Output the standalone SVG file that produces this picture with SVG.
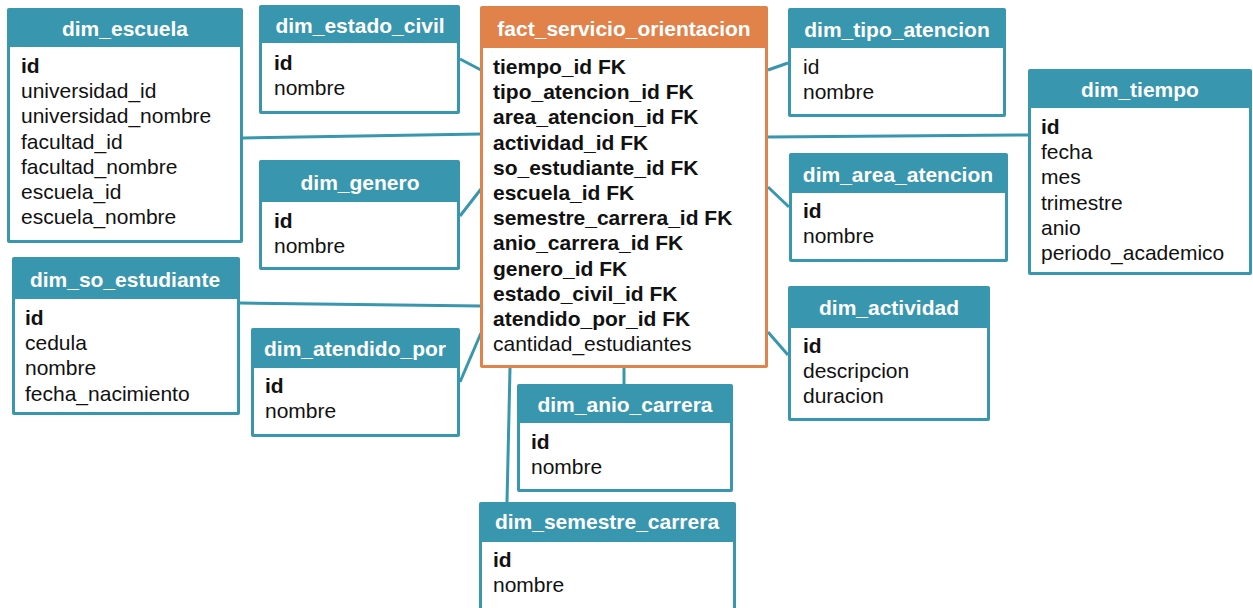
<svg xmlns="http://www.w3.org/2000/svg" width="1253" height="608" viewBox="0 0 1253 608">
<style>
.t{fill:#3896AE}
.o{fill:#E0824A}
.w{fill:#FFFFFF}
.h{font-family:"Liberation Sans",Arial,sans-serif;font-size:21px;font-weight:bold;fill:#FFFFFF;text-anchor:middle}
.r{font-family:"Liberation Sans",Arial,sans-serif;font-size:21px;fill:#111111}
.b{font-weight:bold}
.c{stroke:#3896AE;stroke-width:3;fill:none}
</style>
<rect width="1253" height="608" fill="#FFFFFF"/>
<g id="connectors">
<line class="c" x1="460" y1="59" x2="481" y2="70"/>
<line class="c" x1="243" y1="138" x2="481" y2="134"/>
<line class="c" x1="460" y1="216" x2="481" y2="189"/>
<line class="c" x1="240" y1="303" x2="481" y2="306"/>
<line class="c" x1="460" y1="382" x2="481" y2="333"/>
<line class="c" x1="768" y1="70" x2="788" y2="63"/>
<line class="c" x1="768" y1="137" x2="1028" y2="135"/>
<line class="c" x1="768" y1="187" x2="789" y2="207"/>
<line class="c" x1="768" y1="332" x2="788" y2="355"/>
<line class="c" x1="624" y1="368" x2="624" y2="384"/>
<line class="c" x1="510" y1="368" x2="507" y2="502"/>
</g>
<g id="dim_escuela">
<rect class="t" x="7" y="8" width="236" height="235" rx="2"/>
<rect class="w" x="10" y="47" width="230" height="193"/>
<text class="h" x="125" y="36">dim_escuela</text>
<text class="r" x="21" y="73"><tspan class="b">id</tspan><tspan x="21" dy="25.2">universidad_id</tspan><tspan x="21" dy="25.2">universidad_nombre</tspan><tspan x="21" dy="25.2">facultad_id</tspan><tspan x="21" dy="25.2">facultad_nombre</tspan><tspan x="21" dy="25.2">escuela_id</tspan><tspan x="21" dy="25.2">escuela_nombre</tspan></text>
</g>
<g id="dim_estado_civil">
<rect class="t" x="259" y="5" width="201" height="109" rx="2"/>
<rect class="w" x="262" y="43" width="195" height="68"/>
<text class="h" x="360" y="33">dim_estado_civil</text>
<text class="r" x="274" y="70"><tspan class="b">id</tspan><tspan x="274" dy="25.2">nombre</tspan></text>
</g>
<g id="dim_genero">
<rect class="t" x="259" y="160" width="201" height="110" rx="2"/>
<rect class="w" x="262" y="202" width="195" height="65"/>
<text class="h" x="360" y="190">dim_genero</text>
<text class="r" x="274" y="228"><tspan class="b">id</tspan><tspan x="274" dy="25.2">nombre</tspan></text>
</g>
<g id="dim_so_estudiante">
<rect class="t" x="12" y="257" width="228" height="158" rx="2"/>
<rect class="w" x="15" y="299" width="222" height="113"/>
<text class="h" x="125" y="287">dim_so_estudiante</text>
<text class="r" x="25" y="325"><tspan class="b">id</tspan><tspan x="25" dy="25.2">cedula</tspan><tspan x="25" dy="25.2">nombre</tspan><tspan x="25" dy="25.2">fecha_nacimiento</tspan></text>
</g>
<g id="dim_atendido_por">
<rect class="t" x="251" y="328" width="209" height="109" rx="2"/>
<rect class="w" x="254" y="368" width="203" height="66"/>
<text class="h" x="355" y="356">dim_atendido_por</text>
<text class="r" x="265" y="393"><tspan class="b">id</tspan><tspan x="265" dy="25.2">nombre</tspan></text>
</g>
<g id="fact_servicio_orientacion">
<rect class="o" x="480" y="6" width="288" height="362" rx="2"/>
<rect class="w" x="483" y="48" width="282" height="317"/>
<text class="h" x="624" y="36">fact_servicio_orientacion</text>
<text class="r b" x="493" y="74"><tspan>tiempo_id FK</tspan><tspan x="493" dy="25.2">tipo_atencion_id FK</tspan><tspan x="493" dy="25.2">area_atencion_id FK</tspan><tspan x="493" dy="25.2">actividad_id FK</tspan><tspan x="493" dy="25.2">so_estudiante_id FK</tspan><tspan x="493" dy="25.2">escuela_id FK</tspan><tspan x="493" dy="25.2">semestre_carrera_id FK</tspan><tspan x="493" dy="25.2">anio_carrera_id FK</tspan><tspan x="493" dy="25.2">genero_id FK</tspan><tspan x="493" dy="25.2">estado_civil_id FK</tspan><tspan x="493" dy="25.2">atendido_por_id FK</tspan><tspan x="493" dy="25.2" font-weight="normal">cantidad_estudiantes</tspan></text>
</g>
<g id="dim_tipo_atencion">
<rect class="t" x="788" y="8" width="218" height="109" rx="2"/>
<rect class="w" x="791" y="48" width="212" height="66"/>
<text class="h" x="897" y="37">dim_tipo_atencion</text>
<text class="r" x="803" y="74"><tspan>id</tspan><tspan x="803" dy="25.2">nombre</tspan></text>
</g>
<g id="dim_tiempo">
<rect class="t" x="1028" y="69" width="224" height="206" rx="2"/>
<rect class="w" x="1031" y="108" width="218" height="164"/>
<text class="h" x="1140" y="97">dim_tiempo</text>
<text class="r" x="1041" y="134"><tspan class="b">id</tspan><tspan x="1041" dy="25.2">fecha</tspan><tspan x="1041" dy="25.2">mes</tspan><tspan x="1041" dy="25.2">trimestre</tspan><tspan x="1041" dy="25.2">anio</tspan><tspan x="1041" dy="25.2">periodo_academico</tspan></text>
</g>
<g id="dim_area_atencion">
<rect class="t" x="789" y="153" width="219" height="109" rx="2"/>
<rect class="w" x="792" y="193" width="213" height="66"/>
<text class="h" x="898" y="182">dim_area_atencion</text>
<text class="r" x="803" y="218"><tspan class="b">id</tspan><tspan x="803" dy="25.2">nombre</tspan></text>
</g>
<g id="dim_actividad">
<rect class="t" x="788" y="286" width="202" height="135" rx="2"/>
<rect class="w" x="791" y="328" width="196" height="90"/>
<text class="h" x="889" y="315">dim_actividad</text>
<text class="r" x="803" y="353"><tspan class="b">id</tspan><tspan x="803" dy="25.2">descripcion</tspan><tspan x="803" dy="25.2">duracion</tspan></text>
</g>
<g id="dim_anio_carrera">
<rect class="t" x="517" y="384" width="216" height="108" rx="2"/>
<rect class="w" x="520" y="423" width="210" height="66"/>
<text class="h" x="625" y="412">dim_anio_carrera</text>
<text class="r" x="531" y="449"><tspan class="b">id</tspan><tspan x="531" dy="25.2">nombre</tspan></text>
</g>
<g id="dim_semestre_carrera">
<rect class="t" x="479" y="502" width="257" height="110" rx="2"/>
<rect class="w" x="482" y="542" width="251" height="70"/>
<text class="h" x="607" y="529">dim_semestre_carrera</text>
<text class="r" x="493" y="567"><tspan class="b">id</tspan><tspan x="493" dy="25.2">nombre</tspan></text>
</g>
</svg>
